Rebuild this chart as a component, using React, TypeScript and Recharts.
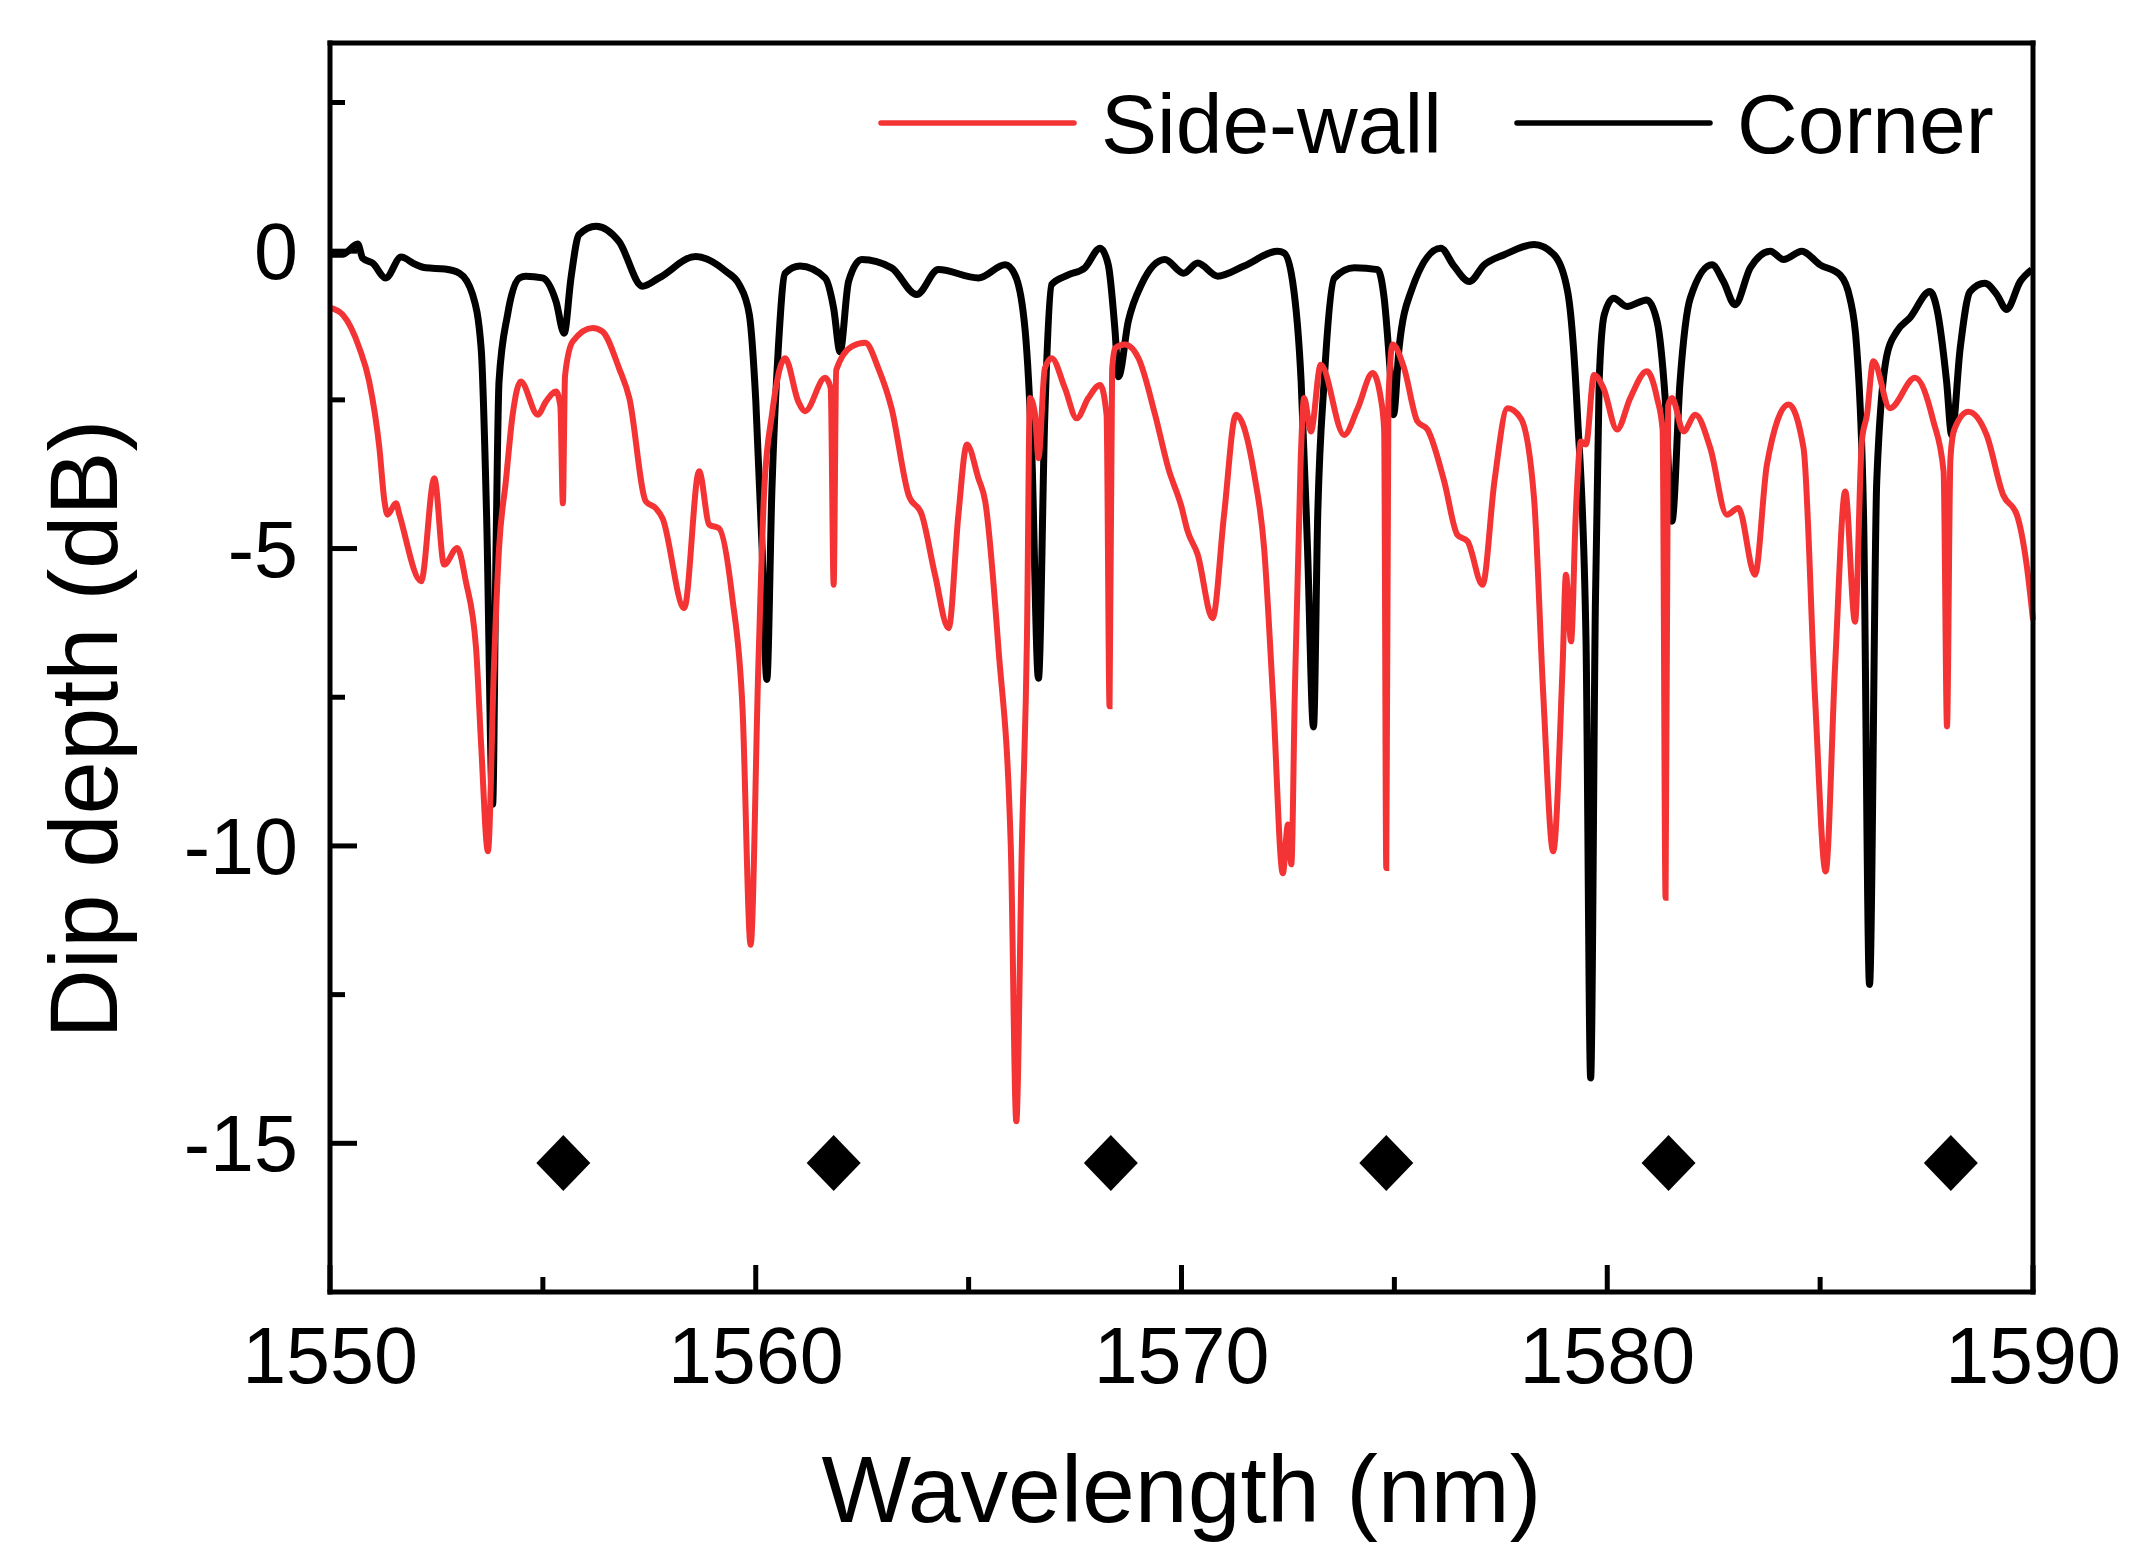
import React from "react";
import { ComposedChart, Line, Scatter, XAxis, YAxis, Legend, Label } from "recharts";

// Side-wall spectrum (red)
const sideWallWavelength = [
  1550.0, 1550.3, 1550.69, 1550.92, 1551.16, 1551.28, 1551.35, 1551.55, 1551.63, 1552.14,
  1552.45, 1552.68, 1552.99, 1553.19, 1553.43, 1553.55, 1553.71, 1553.85, 1553.97, 1554.13,
  1554.29, 1554.48, 1554.88, 1555.07, 1555.31, 1555.41, 1555.47, 1555.52, 1555.7, 1556.17,
  1556.4, 1556.79, 1557.03, 1557.42, 1557.65, 1557.81, 1558.32, 1558.67, 1558.91, 1559.14,
  1559.45, 1559.69, 1559.88, 1560.06, 1560.2, 1560.38, 1560.69, 1561.0, 1561.16, 1561.63,
  1561.76, 1561.83, 1561.89, 1562.26, 1562.57, 1562.88, 1563.19, 1563.59, 1563.9, 1564.21,
  1564.53, 1564.76, 1564.96, 1565.23, 1565.39, 1565.7, 1565.99, 1566.12, 1566.25, 1566.37,
  1566.44, 1566.56, 1566.64, 1566.79, 1566.95, 1567.26, 1567.54, 1567.81, 1568.09, 1568.24,
  1568.31, 1568.37, 1568.44, 1568.67, 1568.99, 1569.38, 1569.69, 1570.0, 1570.14, 1570.38,
  1570.73, 1571.0, 1571.28, 1571.71, 1571.94, 1572.15, 1572.38, 1572.5, 1572.58, 1572.66,
  1572.8, 1572.88, 1573.04, 1573.27, 1573.82, 1574.14, 1574.49, 1574.68, 1574.76, 1574.81,
  1574.86, 1574.96, 1575.23, 1575.54, 1575.78, 1576.17, 1576.48, 1576.72, 1577.07, 1577.35,
  1577.66, 1577.97, 1578.28, 1578.5, 1578.73, 1578.95, 1579.03, 1579.15, 1579.26, 1579.38,
  1579.5, 1579.69, 1579.91, 1580.23, 1580.54, 1580.93, 1581.17, 1581.3, 1581.37, 1581.43,
  1581.52, 1581.79, 1582.07, 1582.42, 1582.81, 1583.08, 1583.47, 1583.75, 1584.26, 1584.61,
  1584.88, 1585.13, 1585.35, 1585.59, 1585.82, 1585.98, 1586.1, 1586.25, 1586.64, 1587.23,
  1587.66, 1587.9, 1587.98, 1588.06, 1588.15, 1588.48, 1588.91, 1589.3, 1589.62, 1589.85,
  1590.0,
];
const sideWallDepth = [
  -0.95, -1.07, -1.63, -2.19, -3.31, -4.21, -4.43, -4.24, -4.43, -5.55,
  -3.82, -5.27, -4.99, -5.55, -6.67, -8.3, -10.09, -7.0, -5.0, -3.87,
  -2.75, -2.19, -2.75, -2.53, -2.36, -2.6, -4.24, -2.1, -1.52, -1.29,
  -1.35, -1.97, -2.47, -4.21, -4.32, -4.49, -6.0, -3.7, -4.6, -4.66,
  -5.83, -7.7, -11.66, -7.0, -4.0, -2.75, -1.8, -2.53, -2.69, -2.13,
  -2.3, -5.61, -2.0, -1.6, -1.54, -1.97, -2.64, -4.1, -4.43, -5.44,
  -6.34, -4.43, -3.25, -3.82, -4.21, -6.67, -10.0, -14.63, -10.0, -6.5,
  -2.47, -2.75, -3.48, -1.97, -1.8, -2.3, -2.81, -2.47, -2.25, -2.75,
  -7.65, -2.0, -1.63, -1.57, -1.8, -2.75, -3.65, -4.3, -4.7, -5.1,
  -6.17, -4.43, -2.75, -3.76, -4.99, -7.5, -10.46, -9.64, -10.31, -7.5,
  -3.5, -2.47, -3.03, -1.91, -3.09, -2.64, -2.05, -2.47, -3.0, -10.37,
  -2.5, -1.57, -1.97, -2.86, -3.0, -3.87, -4.77, -4.88, -5.61, -3.87,
  -2.64, -2.81, -4.15, -7.5, -10.09, -7.0, -5.44, -6.56, -4.43, -3.2,
  -3.25, -2.08, -2.3, -3.0, -2.47, -2.02, -2.47, -3.0, -10.87, -2.6,
  -2.47, -3.03, -2.75, -3.31, -4.43, -4.32, -5.44, -3.59, -2.58, -3.31,
  -7.5, -10.43, -7.0, -4.04, -6.23, -3.2, -2.75, -1.85, -2.64, -2.13,
  -2.86, -3.7, -7.99, -3.5, -3.0, -2.7, -3.09, -4.1, -4.43, -5.27,
  -6.2,
];

// Corner spectrum (black)
const cornerWavelength = [
  1550.0, 1550.3, 1550.65, 1550.77, 1551.0, 1551.31, 1551.67, 1552.0, 1552.25, 1552.7,
  1553.04, 1553.35, 1553.55, 1553.68, 1553.82, 1553.9, 1553.97, 1554.17, 1554.45, 1554.6,
  1554.99, 1555.31, 1555.5, 1555.66, 1555.85, 1556.25, 1556.79, 1557.34, 1557.73, 1558.59,
  1559.3, 1559.61, 1559.85, 1560.0, 1560.15, 1560.26, 1560.38, 1560.53, 1560.69, 1561.04,
  1561.63, 1561.83, 1561.98, 1562.18, 1562.49, 1563.19, 1563.78, 1564.29, 1565.23, 1565.86,
  1566.09, 1566.33, 1566.48, 1566.64, 1566.79, 1566.95, 1567.34, 1567.73, 1568.09, 1568.28,
  1568.44, 1568.52, 1568.75, 1569.06, 1569.61, 1570.05, 1570.38, 1570.85, 1571.47, 1572.26,
  1572.41, 1572.61, 1572.81, 1572.96, 1573.1, 1573.2, 1573.35, 1573.59, 1574.06, 1574.61,
  1574.76, 1574.92, 1574.98, 1575.11, 1575.39, 1576.09, 1576.4, 1576.76, 1577.11, 1577.58,
  1578.28, 1578.75, 1579.07, 1579.3, 1579.5, 1579.61, 1579.72, 1579.81, 1579.93, 1580.15,
  1580.46, 1580.93, 1581.17, 1581.36, 1581.52, 1581.71, 1581.95, 1582.46, 1582.73, 1583.0,
  1583.36, 1583.83, 1584.14, 1584.57, 1585.0, 1585.47, 1585.7, 1585.86, 1586.02, 1586.16,
  1586.33, 1586.57, 1586.8, 1587.11, 1587.58, 1587.74, 1587.97, 1588.09, 1588.29, 1588.52,
  1588.87, 1589.15, 1589.38, 1589.7, 1589.97,
];
const cornerDepth = [
  -0.05, -0.05, 0.12, -0.12, -0.2, -0.45, -0.1, -0.22, -0.28, -0.3,
  -0.37, -0.73, -1.63, -4.5, -9.3, -5.0, -2.19, -1.07, -0.45, -0.42,
  -0.45, -0.85, -1.38, -0.45, 0.28, 0.42, 0.16, -0.59, -0.45, -0.09,
  -0.34, -0.56, -1.07, -2.5, -5.0, -7.2, -4.0, -1.63, -0.37, -0.25,
  -0.45, -0.96, -1.69, -0.51, -0.14, -0.28, -0.73, -0.31, -0.45, -0.23,
  -0.4, -1.35, -3.31, -7.18, -2.75, -0.56, -0.4, -0.28, 0.05, -0.23,
  -1.35, -2.11, -1.18, -0.56, -0.14, -0.37, -0.2, -0.42, -0.25, 0.0,
  -0.03, -0.51, -2.19, -5.0, -8.0, -4.43, -2.19, -0.45, -0.28, -0.31,
  -0.79, -2.19, -2.75, -1.63, -0.68, 0.05, -0.25, -0.51, -0.23, -0.06,
  0.11, -0.06, -0.68, -2.75, -6.5, -13.9, -6.0, -2.19, -1.07, -0.79,
  -0.93, -0.82, -1.18, -2.47, -4.54, -2.19, -0.79, -0.23, -0.51, -0.9,
  -0.28, 0.0, -0.14, 0.0, -0.23, -0.4, -0.79, -1.63, -4.43, -12.33,
  -3.87, -1.74, -1.35, -1.12, -0.68, -0.96, -2.19, -3.09, -1.63, -0.68,
  -0.54, -0.73, -0.98, -0.51, -0.31,
];

// Diamond markers under the side-wall resonances
const markerWavelength = [1555.48, 1561.83, 1568.34, 1574.81, 1581.44, 1588.07];
const markerDepth = [-15.33, -15.33, -15.33, -15.33, -15.33, -15.33];

const xTicks = [1550, 1555, 1560, 1565, 1570, 1575, 1580, 1585, 1590];
const xLabelled = [1550, 1560, 1570, 1580, 1590];
const yTicks = [2.5, 0, -2.5, -5, -7.5, -10, -12.5, -15];
const yLabelled = [0, -5, -10, -15];
const legendOrder = ["Side-wall", "Corner"];

const toPoints = (xs: number[], ys: number[]) => xs.map((x, i) => ({ x, y: ys[i] }));
const sideWall = toPoints(sideWallWavelength, sideWallDepth);
const corner = toPoints(cornerWavelength, cornerDepth);
const markers = toPoints(markerWavelength, markerDepth);

const FONT = "'Liberation Sans', Arial, Helvetica, sans-serif";
const MAJOR = 27;
const MINOR = 15;
const TICK_W = 5;

const bottomTick = (p: any) => {
  const major = xLabelled.includes(p.payload.value);
  return (
    <g>
      <line x1={p.x} x2={p.x} y1={p.y} y2={p.y - (major ? MAJOR : MINOR)} stroke="#000" strokeWidth={TICK_W} />
      {major && (
        <text x={p.x} y={p.y + 91} textAnchor="middle" fontSize={79} fontFamily={FONT} fill="#000">
          {p.payload.value}
        </text>
      )}
    </g>
  );
};

const topTick = (p: any) => {
  const major = xLabelled.includes(p.payload.value);
  return <line x1={p.x} x2={p.x} y1={p.y} y2={p.y + (major ? MAJOR : MINOR)} stroke="#000" strokeWidth={TICK_W} />;
};

const leftTick = (p: any) => {
  const major = yLabelled.includes(p.payload.value);
  return (
    <g>
      <line x1={p.x} x2={p.x + (major ? MAJOR : MINOR)} y1={p.y} y2={p.y} stroke="#000" strokeWidth={TICK_W} />
      {major && (
        <text x={p.x - 32} y={p.y + 28} textAnchor="end" fontSize={79} fontFamily={FONT} fill="#000">
          {String(p.payload.value)}
        </text>
      )}
    </g>
  );
};

const rightTick = (p: any) => {
  const major = yLabelled.includes(p.payload.value);
  return <line x1={p.x} x2={p.x - (major ? MAJOR : MINOR)} y1={p.y} y2={p.y} stroke="#000" strokeWidth={TICK_W} />;
};

const xTitle = (p: any) => {
  const vb = p.viewBox;
  return (
    <text x={vb.x + vb.width / 2} y={vb.y + 230} textAnchor="middle" fontSize={95} fontFamily={FONT} fill="#000">
      Wavelength (nm)
    </text>
  );
};

const yTitle = (p: any) => {
  const vb = p.viewBox;
  const x = vb.x + 117;
  const y = vb.y + 686;
  return (
    <text x={x} y={y} transform={`rotate(-90, ${x}, ${y})`} textAnchor="middle" fontSize={96} fontFamily={FONT} fill="#000">
      Dip depth (dB)
    </text>
  );
};

const diamond = (p: any) => {
  const { cx, cy } = p;
  return <polygon points={`${cx},${cy - 28} ${cx + 27},${cy} ${cx},${cy + 28} ${cx - 27},${cy}`} fill="#000" />;
};

const renderLegend = (props: any) => {
  const items = [...(props.payload || [])]
    .filter((it: any) => legendOrder.includes(it.value))
    .sort((a: any, b: any) => legendOrder.indexOf(a.value) - legendOrder.indexOf(b.value));
  return (
    <svg width={2129} height={200} style={{ display: "block" }}>
      {items.map((it: any, i: number) => {
        const x0 = 881 + i * 636;
        return (
          <g key={it.value}>
            <line x1={x0} x2={x0 + 193} y1={123} y2={123} stroke={it.color} strokeWidth={5.5} strokeLinecap="round" />
            <text x={x0 + 220} y={153} fontSize={84} fontFamily={FONT} fill="#000">
              {it.value}
            </text>
          </g>
        );
      })}
    </svg>
  );
};

export default function App() {
  const axisLine = { stroke: "#000", strokeWidth: 5, strokeLinecap: "square" as const };
  return (
    <div style={{ position: "absolute", left: 0, top: 0, width: 2129, height: 1547, background: "#fff" }}>
      <ComposedChart width={2129} height={1547} margin={{ top: 42, right: 95, bottom: 0, left: 0 }}>
        <XAxis
          xAxisId="b"
          dataKey="x"
          type="number"
          orientation="bottom"
          domain={[1550, 1590]}
          ticks={xTicks}
          interval={0}
          height={255}
          tickSize={0}
          tickMargin={0}
          tickLine={false}
          axisLine={axisLine}
          tick={bottomTick}
        >
          <Label content={xTitle} />
        </XAxis>
        <XAxis
          xAxisId="t"
          dataKey="x"
          type="number"
          orientation="top"
          domain={[1550, 1590]}
          ticks={xTicks}
          interval={0}
          height={1}
          tickSize={0}
          tickMargin={0}
          tickLine={false}
          axisLine={axisLine}
          tick={topTick}
        />
        <YAxis
          yAxisId="l"
          type="number"
          orientation="left"
          domain={[-17.5, 3.5]}
          ticks={yTicks}
          interval={0}
          width={330}
          tickSize={0}
          tickMargin={0}
          tickLine={false}
          axisLine={axisLine}
          tick={leftTick}
        >
          <Label content={yTitle} />
        </YAxis>
        <YAxis
          yAxisId="r"
          type="number"
          orientation="right"
          domain={[-17.5, 3.5]}
          ticks={yTicks}
          interval={0}
          width={1}
          tickSize={0}
          tickMargin={0}
          tickLine={false}
          axisLine={axisLine}
          tick={rightTick}
        />
        <Legend
          content={renderLegend}
          layout="horizontal"
          verticalAlign="middle"
          align="center"
          wrapperStyle={{ position: "absolute", left: 0, top: 0, width: 2129, height: 200, pointerEvents: "none" }}
        />
        <Line
          data={corner}
          dataKey="y"
          name="Corner"
          xAxisId="b"
          yAxisId="l"
          type="monotoneX"
          stroke="#000000"
          strokeWidth={7}
          dot={false}
          activeDot={false}
          isAnimationActive={false}
        />
        <Line
          data={sideWall}
          dataKey="y"
          name="Side-wall"
          xAxisId="b"
          yAxisId="l"
          type="monotoneX"
          stroke="#f43434"
          strokeWidth={6}
          dot={false}
          activeDot={false}
          isAnimationActive={false}
        />
        <Scatter
          data={markers}
          dataKey="y"
          xAxisId="b"
          yAxisId="l"
          shape={diamond}
          legendType="none"
          isAnimationActive={false}
        />
      </ComposedChart>
    </div>
  );
}
